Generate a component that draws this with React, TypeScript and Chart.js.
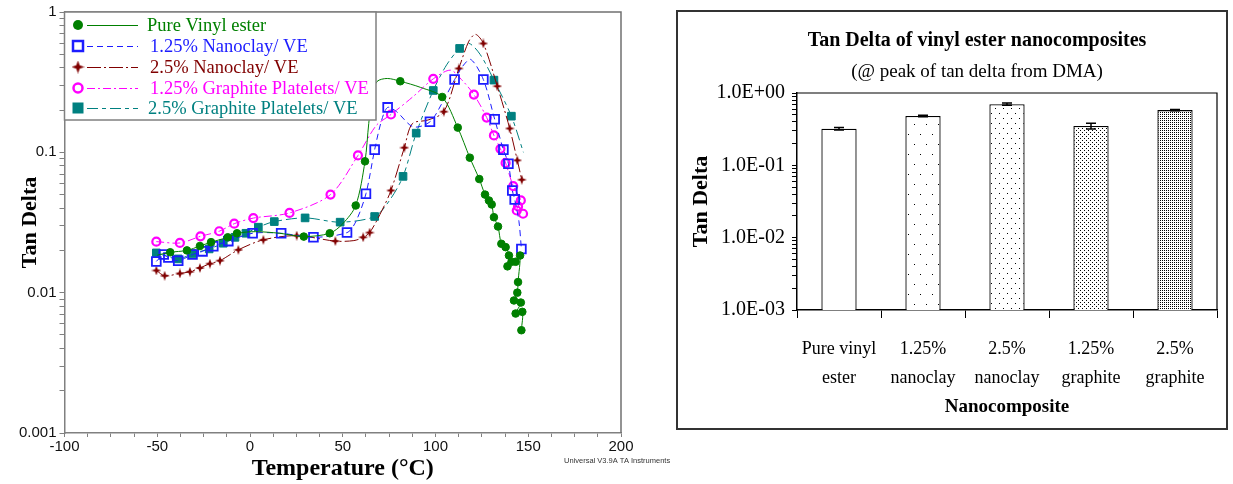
import React, { useEffect, useRef } from 'react';
import { Chart, registerables } from 'chart.js';
Chart.register(...registerables);

// ---------- Left chart data (Tan Delta vs Temperature) ----------
const seriesNames = ['Pure Vinyl ester', '1.25% Nanoclay/ VE', '2.5% Nanoclay/ VE', '1.25% Graphite Platelets/ VE', '2.5% Graphite Platelets/ VE'];

const pureT = [-50, -43, -34, -27, -21, -12, -7, 3, 16, 29, 43, 50, 57, 62, 64, 66, 68.5, 74, 81, 92, 103.6, 112, 118.5, 123.6, 126.7, 128.8, 130.3, 131.5, 133.7, 135.5, 137.8, 139.6, 138.8, 141, 143.2, 145.6, 144.5, 144.1, 142.3, 146, 143.2, 146.8, 146.3];
const pureV = [0.0185, 0.0194, 0.02, 0.0215, 0.0229, 0.0248, 0.0265, 0.0272, 0.0265, 0.0251, 0.0265, 0.031, 0.0418, 0.0863, 0.16, 0.26, 0.32, 0.336, 0.321, 0.29, 0.248, 0.15, 0.0916, 0.0645, 0.05, 0.0454, 0.0425, 0.0345, 0.0296, 0.0223, 0.0211, 0.0184, 0.0154, 0.0166, 0.0166, 0.0184, 0.0119, 0.01, 0.0088, 0.0085, 0.0071, 0.0073, 0.0054];
const pureM = [0, 1, 1, 1, 1, 1, 1, 0, 0, 1, 1, 0, 1, 1, 0, 0, 0, 0, 1, 0, 1, 1, 1, 1, 1, 1, 1, 1, 1, 1, 1, 1, 1, 1, 1, 1, 1, 1, 1, 1, 1, 1, 1];

const clay125T = [-50.5, -46.5, -44, -38.7, -31, -25.6, -19.8, -11.7, 1.4, 16.8, 34.2, 52.3, 57, 62.5, 67.2, 71, 74.2, 79, 88, 97, 104, 110.3, 114.4, 119, 125.8, 131.9, 136.6, 139.3, 141.4, 142.7, 145, 146.3];
const clay125V = [0.0167, 0.0187, 0.0178, 0.0169, 0.0187, 0.0197, 0.0214, 0.0233, 0.0265, 0.0265, 0.0248, 0.0268, 0.032, 0.0507, 0.1045, 0.17, 0.209, 0.195, 0.152, 0.165, 0.23, 0.33, 0.407, 0.459, 0.33, 0.172, 0.1045, 0.083, 0.0535, 0.0462, 0.032, 0.0205];
const clay125M = [1, 1, 1, 1, 1, 1, 1, 1, 1, 1, 1, 1, 0, 1, 1, 0, 1, 0, 0, 1, 0, 1, 0, 0, 1, 1, 1, 1, 1, 1, 0, 1];

const clay25T = [-50.5, -46, -37.8, -32.4, -27, -21.6, -16.2, -6.3, 7.2, 25.2, 46, 56, 61, 64.5, 70, 76, 83.2, 87.5, 96, 104.5, 112.6, 118, 121.6, 125.8, 133.3, 140, 144.1, 146.5];
const clay25V = [0.0144, 0.0132, 0.0137, 0.0141, 0.015, 0.0161, 0.0169, 0.0202, 0.0238, 0.0255, 0.0233, 0.0235, 0.0248, 0.0268, 0.036, 0.0535, 0.108, 0.16, 0.17, 0.195, 0.396, 0.62, 0.693, 0.597, 0.296, 0.148, 0.0877, 0.0638];
const clay25M = [1, 1, 1, 1, 1, 1, 1, 1, 1, 1, 1, 0, 1, 1, 0, 1, 1, 0, 0, 1, 1, 0, 0, 1, 1, 1, 1, 1];

const gr125T = [-50.5, -37.8, -26.7, -16.6, -8.5, 1.8, 21.3, 43.4, 58.2, 68, 76, 88, 98.8, 108, 114, 120.7, 127.6, 131.5, 135, 137.8, 141.9, 146, 144.5, 143.8, 147.2];
const gr125V = [0.0231, 0.0226, 0.0252, 0.0274, 0.031, 0.034, 0.037, 0.05, 0.095, 0.155, 0.186, 0.25, 0.334, 0.385, 0.33, 0.258, 0.177, 0.132, 0.106, 0.084, 0.0575, 0.0454, 0.0412, 0.0385, 0.0365];
const gr125M = [1, 1, 1, 1, 1, 1, 1, 1, 1, 0, 1, 0, 1, 0, 0, 1, 1, 1, 1, 1, 1, 1, 1, 1, 1];

const gr25T = [-50.5, -38.7, -31, -22, -14.4, -8.1, -2.2, 4.5, 13.1, 29.7, 48.6, 67.2, 75, 82.5, 89.6, 98.8, 106, 113, 118, 124, 131.5, 140.9, 147.4];
const gr25V = [0.0192, 0.0174, 0.019, 0.0205, 0.0225, 0.0248, 0.0265, 0.0293, 0.0321, 0.0341, 0.0318, 0.0349, 0.045, 0.0674, 0.137, 0.276, 0.42, 0.55, 0.598, 0.5, 0.327, 0.181, 0.1];
const gr25M = [1, 1, 1, 1, 1, 1, 1, 1, 1, 1, 1, 1, 0, 1, 1, 1, 0, 1, 0, 0, 1, 1, 0];

const tempMajorTicks = [-100, -50, 0, 50, 100, 150, 200];
const tanDecades = [0.001, 0.01, 0.1, 1];
const tanDecadeLabels = ['0.001', '0.01', '0.1', '1'];

// ---------- Right chart data (bar) ----------
const barTitle = 'Tan Delta of vinyl ester nanocomposites';
const barSubtitle = '(@ peak of tan delta from DMA)';
const barCategories = [['Pure vinyl', 'ester'], ['1.25%', 'nanoclay'], ['2.5%', 'nanoclay'], ['1.25%', 'graphite'], ['2.5%', 'graphite']];
const barValues = [0.321, 0.481, 0.7, 0.35, 0.58];
const barErrors = [0.012, 0.01, 0.025, 0.032, 0.01];
const barDecadeLabels = ['1.0E-03', '1.0E-02', '1.0E-01', '1.0E+00'];

const SERIF = "'Liberation Serif', 'Times New Roman', serif";
const SANS = "'Liberation Sans', Arial, sans-serif";

const COLORS = ['#008000', '#1c1cff', '#800000', '#ff00ff', '#008080'];
const DASHES: number[][] = [[], [6, 4], [14, 3, 2, 3], [8, 3, 2, 3], [11, 4, 4, 4]];

function makeStar(size: number, color: string) {
  const c = document.createElement('canvas');
  c.width = size; c.height = size;
  const x = c.getContext('2d')!;
  const m = size / 2, r = size / 2, q = size * 0.13;
  x.fillStyle = color;
  x.beginPath();
  x.moveTo(m, m - r);
  x.lineTo(m + q, m - q);
  x.lineTo(m + r, m);
  x.lineTo(m + q, m + q);
  x.lineTo(m, m + r);
  x.lineTo(m - q, m + q);
  x.lineTo(m - r, m);
  x.lineTo(m - q, m - q);
  x.closePath();
  x.fill();
  return c;
}

function logTicks(min: number, max: number) {
  const out: { value: number }[] = [];
  for (let d = min; d < max * 0.999; d *= 10) {
    for (let k = 1; k <= 9; k++) out.push({ value: +(d * k).toPrecision(6) });
  }
  out.push({ value: max });
  return out;
}

function decadeIndex(v: number) {
  return tanDecades.findIndex((d) => Math.abs(d - v) / d < 1e-6);
}

function LeftChart() {
  const ref = useRef<HTMLCanvasElement>(null);
  useEffect(() => {
    const canvas = ref.current!;
    const star = makeStar(10, COLORS[2]);
    const legendStar = makeStar(13, COLORS[2]);
    const all = [
      [pureT, pureV, pureM],
      [clay125T, clay125V, clay125M],
      [clay25T, clay25V, clay25M],
      [gr125T, gr125V, gr125M],
      [gr25T, gr25V, gr25M],
    ];
    const styles: any[] = [
      { pointStyle: 'circle', r: 3.8, bg: COLORS[0], bw: 1 },
      { pointStyle: 'rect', r: 6.2, bg: 'rgba(255,255,255,0)', bw: 1.8 },
      { pointStyle: star, r: 4, bg: COLORS[2], bw: 1 },
      { pointStyle: 'circle', r: 4, bg: 'rgba(255,255,255,0)', bw: 2.2 },
      { pointStyle: 'rect', r: 5.4, bg: COLORS[4], bw: 1 },
    ];
    const datasets = all.map(([T, V, M], i) => ({
      label: seriesNames[i],
      data: (T as number[]).map((t, j) => ({ x: t, y: (V as number[])[j] })),
      borderColor: COLORS[i],
      backgroundColor: styles[i].bg,
      borderWidth: 1,
      borderDash: DASHES[i],
      tension: 0.3,
      pointStyle: styles[i].pointStyle,
      pointRadius: (ctx: any) => ((M as number[])[ctx.dataIndex] ? styles[i].r : 0),
      pointBorderWidth: styles[i].bw,
      pointBorderColor: COLORS[i],
      pointBackgroundColor: styles[i].bg,
    }));

    const framePlugin = {
      id: 'leftFrame',
      afterDatasetsDraw(chart: any) {
        const { ctx, chartArea: a } = chart;
        ctx.save();
        ctx.strokeStyle = '#707070';
        ctx.lineWidth = 1.5;
        ctx.beginPath();
        ctx.moveTo(a.left, a.top);
        ctx.lineTo(a.right, a.top);
        ctx.lineTo(a.right, a.bottom);
        ctx.stroke();
        // legend box
        const L = a.left, T = a.top, R = 376, B = 120;
        ctx.fillStyle = '#fff';
        ctx.fillRect(L, T, R - L, B - T);
        ctx.strokeStyle = '#808080';
        ctx.strokeRect(L, T, R - L, B - T);
        const rows = [25, 46, 67, 88, 108];
        const textX = [147, 150, 150, 150, 148];
        rows.forEach((y, i) => {
          const c = COLORS[i];
          ctx.setLineDash(DASHES[i]);
          ctx.strokeStyle = c;
          ctx.lineWidth = 1;
          ctx.beginPath();
          ctx.moveTo(87, y + 0.5);
          ctx.lineTo(138, y + 0.5);
          ctx.stroke();
          ctx.setLineDash([]);
          const mx = 78;
          if (i === 0) {
            ctx.fillStyle = c; ctx.beginPath(); ctx.arc(mx, y, 5, 0, Math.PI * 2); ctx.fill();
          } else if (i === 1) {
            ctx.strokeStyle = c; ctx.lineWidth = 2.5; ctx.strokeRect(mx - 5, y - 5, 10, 10);
          } else if (i === 2) {
            ctx.drawImage(legendStar, mx - 6.5, y - 6.5);
          } else if (i === 3) {
            ctx.strokeStyle = c; ctx.lineWidth = 2.5; ctx.beginPath(); ctx.arc(mx, y, 4.5, 0, Math.PI * 2); ctx.stroke();
          } else {
            ctx.fillStyle = c; ctx.fillRect(mx - 5.5, y - 5.5, 11, 11);
          }
          ctx.fillStyle = c;
          ctx.font = `18.5px ${SERIF}`;
          ctx.textBaseline = 'middle';
          ctx.textAlign = 'left';
          ctx.fillText(seriesNames[i], textX[i], y + 1);
        });
        ctx.font = `7.5px ${SANS}`;
        ctx.fillStyle = '#333';
        ctx.fillText('Universal V3.9A TA Instruments', 564, 461);
        ctx.restore();
      },
    };

    const chart = new Chart(canvas, {
      type: 'line',
      data: { datasets: datasets as any },
      options: {
        responsive: false,
        animation: false,
        devicePixelRatio: 1,
        layout: { padding: { top: 12, right: 69, left: 0, bottom: 0 } },
        plugins: { legend: { display: false }, tooltip: { enabled: false } },
        scales: {
          x: {
            type: 'linear',
            min: -100,
            max: 200,
            afterBuildTicks: (s: any) => {
              const t: { value: number }[] = [];
              for (let v = -100; v <= 200; v += 12.5) t.push({ value: v });
              s.ticks = t;
            },
            afterFit: (s: any) => { s.height = 51; },
            ticks: {
              autoSkip: false, maxRotation: 0, padding: 1, color: '#111',
              font: { family: SANS, size: 15 },
              callback: (v: any) => (tempMajorTicks.includes(Number(v)) ? String(v) : ''),
            },
            grid: { drawOnChartArea: false, drawTicks: true, tickLength: 4, color: '#808080', lineWidth: 1 },
            border: { color: '#808080', width: 1.5 },
            title: { display: true, text: 'Temperature (°C)', color: '#000', font: { family: SERIF, size: 24, weight: 'bold' }, padding: { top: 0, bottom: 1 } },
          },
          y: {
            type: 'logarithmic',
            min: 0.001,
            max: 1,
            afterBuildTicks: (s: any) => { s.ticks = logTicks(0.001, 1); },
            afterFit: (s: any) => { s.width = 64.5; },
            ticks: {
              autoSkip: false, padding: 3, color: '#111',
              font: { family: SANS, size: 15 },
              callback: (v: any) => { const i = decadeIndex(Number(v)); return i >= 0 ? tanDecadeLabels[i] : ''; },
            },
            grid: { drawOnChartArea: false, drawTicks: true, tickLength: 5, color: '#808080' },
            border: { color: '#808080', width: 1.5 },
            title: { display: true, text: 'Tan Delta', color: '#000', font: { family: SERIF, size: 22, weight: 'bold' }, padding: { top: 17, bottom: 0 } },
          },
        },
      } as any,
      plugins: [framePlugin],
    });
    return () => chart.destroy();
  }, []);
  return <canvas ref={ref} width={690} height={484} style={{ position: 'absolute', left: 0, top: 0, width: 690, height: 484 }} />;
}

function makePattern(ctx: CanvasRenderingContext2D, w: number, h: number, dots: number[][], fg = '#000') {
  const c = document.createElement('canvas');
  c.width = w; c.height = h;
  const x = c.getContext('2d')!;
  x.fillStyle = '#fff';
  x.fillRect(0, 0, w, h);
  x.fillStyle = fg;
  dots.forEach(([a, b]) => x.fillRect(a, b, 1, 1));
  return ctx.createPattern(c, 'repeat');
}

function RightChart() {
  const ref = useRef<HTMLCanvasElement>(null);
  useEffect(() => {
    const canvas = ref.current!;
    const ctx = canvas.getContext('2d')!;
    const fills = [
      '#ffffff',
      makePattern(ctx, 12, 20, [[2, 2], [8, 12]]),
      makePattern(ctx, 8, 10, [[1, 1], [5, 6]]),
      makePattern(ctx, 4, 4, [[0, 0], [2, 2]]),
      makePattern(ctx, 2, 2, [[0, 0]]),
    ];
    const framePlugin = {
      id: 'rightFrame',
      afterDatasetsDraw(chart: any) {
        const { ctx: c, chartArea: a } = chart;
        c.save();
        c.strokeStyle = '#000';
        c.lineWidth = 1.2;
        c.beginPath();
        c.moveTo(a.left, a.top);
        c.lineTo(a.right, a.top);
        c.lineTo(a.right, a.bottom);
        c.stroke();
        // error bars
        const meta = chart.getDatasetMeta(0);
        const ys = chart.scales.y;
        c.lineWidth = 1.5;
        meta.data.forEach((bar: any, i: number) => {
          const top = ys.getPixelForValue(barValues[i] + barErrors[i]);
          const bot = ys.getPixelForValue(barValues[i] - barErrors[i]);
          c.beginPath();
          c.moveTo(bar.x, top); c.lineTo(bar.x, bot);
          c.moveTo(bar.x - 5, top); c.lineTo(bar.x + 5, top);
          c.moveTo(bar.x - 5, bot); c.lineTo(bar.x + 5, bot);
          c.stroke();
        });
        // title + subtitle (centred as in the source figure)
        c.fillStyle = '#000';
        c.textAlign = 'center';
        c.textBaseline = 'middle';
        c.font = `bold 20px ${SERIF}`;
        c.fillText(barTitle, 299, 29);
        c.font = `19px ${SERIF}`;
        c.fillText(barSubtitle, 299, 60);
        c.restore();
      },
    };
    const chart = new Chart(canvas, {
      type: 'bar',
      data: {
        labels: barCategories as any,
        datasets: [{
          data: barValues,
          backgroundColor: fills as any,
          borderColor: '#000',
          borderWidth: 1.3,
          barPercentage: 0.42,
          categoryPercentage: 1,
        }],
      },
      options: {
        responsive: false,
        animation: false,
        devicePixelRatio: 1,
        layout: { padding: { top: 81, right: 9, left: 0, bottom: 0 } },
        plugins: {
          legend: { display: false },
          tooltip: { enabled: false },
        },
        scales: {
          x: {
            afterFit: (s: any) => { s.height = 118; },
            grid: { offset: true, drawOnChartArea: false, drawTicks: true, tickLength: 8, color: '#000' },
            border: { color: '#000', width: 1.5 },
            ticks: { autoSkip: false, maxRotation: 0, padding: 16, color: '#000', font: { family: SERIF, size: 18, lineHeight: 1.65 } },
            title: { display: true, text: 'Nanocomposite', color: '#000', font: { family: SERIF, size: 19, weight: 'bold' }, padding: { top: 0, bottom: 10 } },
          },
          y: {
            type: 'logarithmic',
            min: 0.001,
            max: 1,
            afterBuildTicks: (s: any) => { s.ticks = logTicks(0.001, 1); },
            afterFit: (s: any) => { s.width = 119; },
            ticks: {
              autoSkip: false, padding: 7, color: '#000',
              font: { family: SERIF, size: 20 },
              callback: (v: any) => { const i = decadeIndex(Number(v)); return i >= 0 ? barDecadeLabels[i] : ''; },
            },
            grid: { drawOnChartArea: false, drawTicks: true, tickLength: 5, color: '#000' },
            border: { color: '#000', width: 1.5 },
            title: { display: true, text: 'Tan Delta', color: '#000', font: { family: SERIF, size: 22, weight: 'bold' }, padding: { top: 10, bottom: 0 } },
          },
        },
      } as any,
      plugins: [framePlugin],
    });
    return () => chart.destroy();
  }, []);
  return (
    <div style={{ position: 'absolute', left: 676, top: 10, width: 552, height: 420, border: '2px solid #333', boxSizing: 'border-box', background: 'transparent' }}>
      <canvas ref={ref} width={548} height={416} style={{ display: 'block', width: 548, height: 416 }} />
    </div>
  );
}

export default function App() {
  return (
    <div style={{ position: 'absolute', left: 0, top: 0, width: 1233, height: 484, background: '#fff', overflow: 'hidden' }}>
      <LeftChart />
      <RightChart />
    </div>
  );
}
